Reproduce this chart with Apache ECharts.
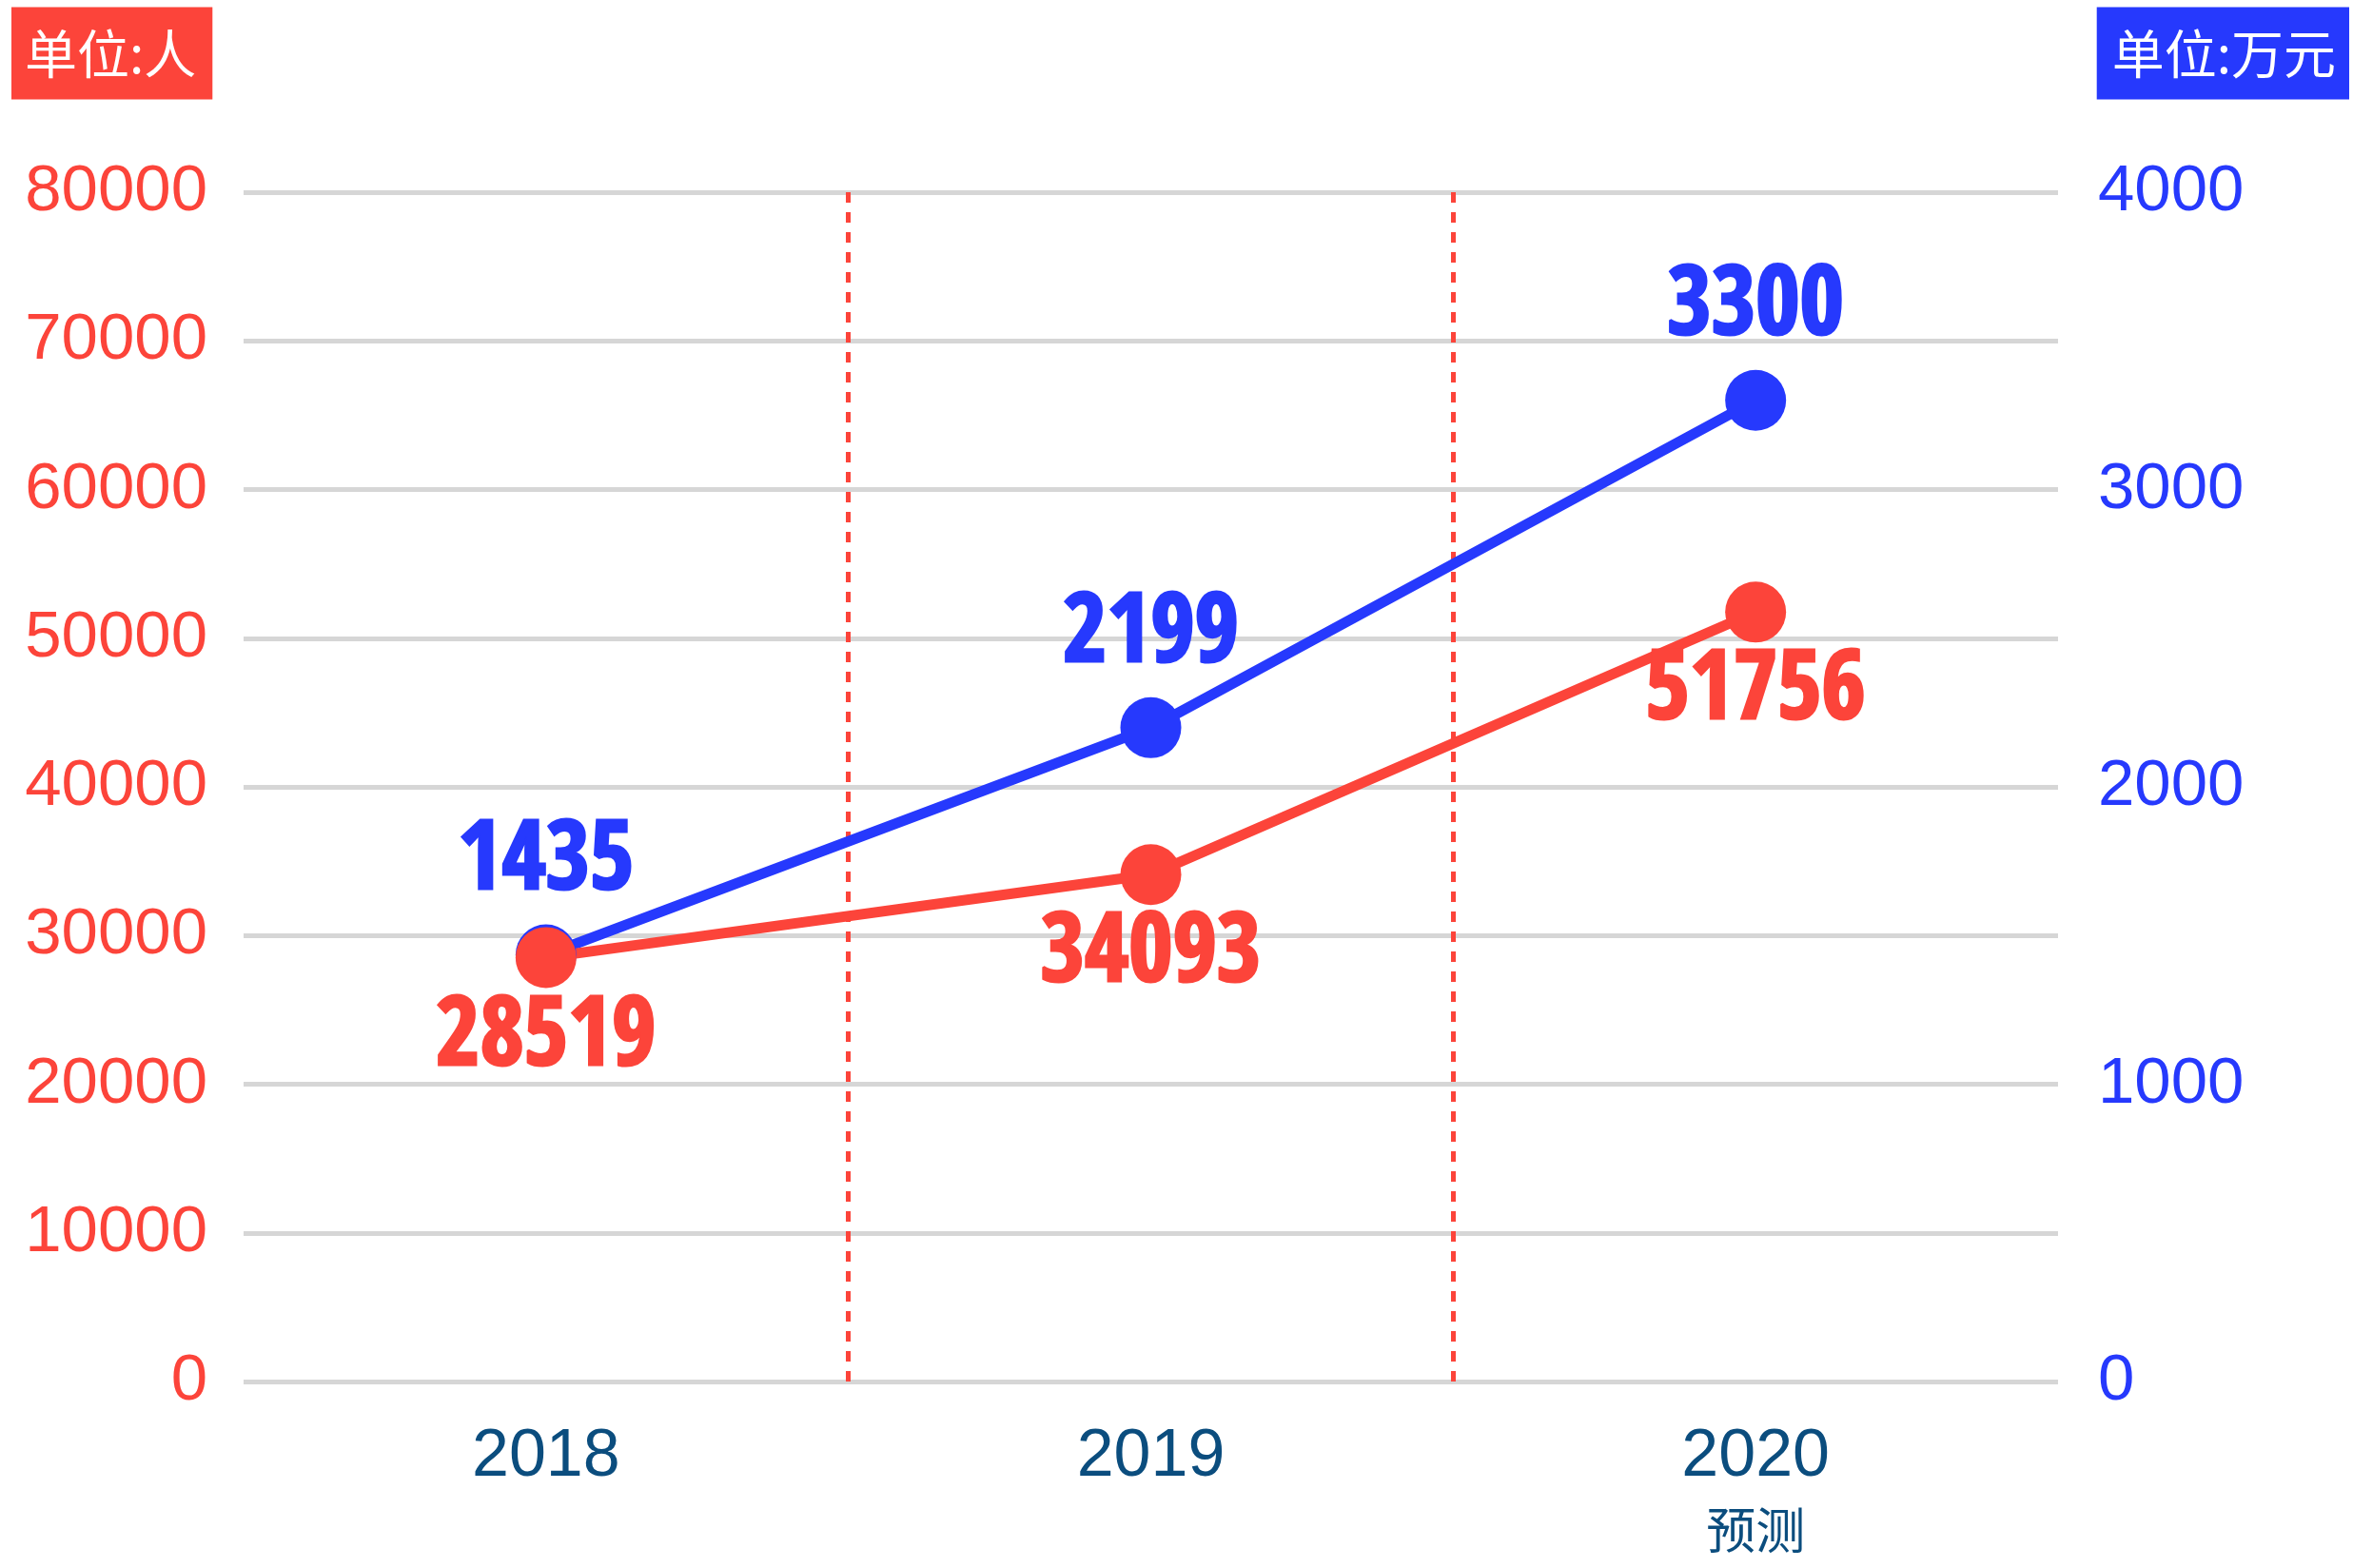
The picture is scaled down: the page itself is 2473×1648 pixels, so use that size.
<!DOCTYPE html>
<html>
<head>
<meta charset="utf-8">
<script src="https://cdn.jsdelivr.net/npm/echarts@6/dist/echarts.min.js"></script>
<style>
  html, body { margin: 0; padding: 0; background: #fff; }
  #container { width: 2473px; height: 1648px; }
</style>
</head>
<body>
<div id="container"></div>
<script>
var dom = document.getElementById('container');
var myChart = echarts.init(dom, null, { renderer: 'canvas' });

// 数据
var years = ['2018', '2019', '2020'];
var yearNotes = ['', '', '预测'];
var people = [28519, 34093, 51756];   // 单位:人
var income = [1435, 2199, 3300];      // 单位:万元
var leftTicks = { min: 0, max: 80000, interval: 10000 };
var rightTicks = { min: 0, max: 4000, interval: 1000 };

var RED = '#fc443a';
var BLUE = '#2639fd';
var NAVY = '#0b4d7e';
var numFont = '"Open Sans Condensed", "Roboto Condensed", "Open Sans", Roboto, sans-serif';

var option = {
  animation: false,
  backgroundColor: '#fff',
  title: [
    {
      text: '单位:人',
      left: 12,
      top: 8,
      padding: [21, 17, 21, 14],
      backgroundColor: RED,
      textStyle: { color: '#fff', fontSize: 55, lineHeight: 54, fontWeight: 'normal', fontFamily: '"Noto Sans CJK SC", sans-serif' }
    },
    {
      text: '单位:万元',
      right: 4,
      top: 8,
      padding: [21, 14, 21, 16],
      backgroundColor: BLUE,
      textStyle: { color: '#fff', fontSize: 55, lineHeight: 54, fontWeight: 'normal', fontFamily: '"Noto Sans CJK SC", sans-serif' }
    }
  ],
  grid: { left: 256, right: 310, top: 202, bottom: 196 },
  xAxis: {
    type: 'category',
    data: years,
    boundaryGap: true,
    axisLine: { show: false },
    axisTick: { show: false },
    axisLabel: {
      margin: 40,
      formatter: function (v, i) {
        return yearNotes[i] ? v + '\n{s|' + yearNotes[i] + '}' : v;
      },
      color: NAVY,
      fontSize: 70,
      lineHeight: 80,
      fontFamily: '"Liberation Sans", sans-serif',
      rich: {
        s: { fontSize: 52, lineHeight: 72, color: NAVY, fontFamily: '"Noto Sans CJK SC", sans-serif' }
      }
    },
    splitLine: {
      show: true,
      showMinLine: false,
      showMaxLine: false,
      lineStyle: { color: RED, width: 5, type: [11, 10] }
    }
  },
  yAxis: [
    {
      type: 'value',
      min: leftTicks.min,
      max: leftTicks.max,
      interval: leftTicks.interval,
      axisLine: { show: false },
      axisTick: { show: false },
      axisLabel: {
        margin: 38, color: RED, fontSize: 69, fontFamily: '"Liberation Sans", sans-serif',
        padding: [16, 0, 0, 0],
        formatter: function (v) { return String(v); }
      },
      splitLine: { lineStyle: { color: '#d6d6d6', width: 5 } }
    },
    {
      type: 'value',
      min: rightTicks.min,
      max: rightTicks.max,
      interval: rightTicks.interval,
      position: 'right',
      axisLine: { show: false },
      axisTick: { show: false },
      axisLabel: {
        margin: 42, color: BLUE, fontSize: 69, fontFamily: '"Liberation Sans", sans-serif',
        padding: [16, 0, 0, 0],
        formatter: function (v) { return String(v); }
      },
      splitLine: { show: false }
    }
  ],
  series: [
    {
      name: '万元',
      type: 'line',
      yAxisIndex: 1,
      data: income,
      symbol: 'circle',
      symbolSize: 64,
      itemStyle: { color: BLUE },
      lineStyle: { color: BLUE, width: 11 },
      label: {
        show: true,
        position: 'top',
        distance: 14,
        color: BLUE,
        fontSize: 100,
        fontStyle: 'condensed',
        fontWeight: 800,
        fontFamily: numFont,
        textBorderColor: BLUE,
        textBorderWidth: 3
      }
    },
    {
      name: '人',
      type: 'line',
      yAxisIndex: 0,
      data: people,
      symbol: 'circle',
      symbolSize: 64,
      itemStyle: { color: RED },
      lineStyle: { color: RED, width: 11 },
      label: {
        show: true,
        position: 'bottom',
        distance: 4,
        color: RED,
        fontSize: 100,
        fontStyle: 'condensed',
        fontWeight: 800,
        fontFamily: numFont,
        textBorderColor: RED,
        textBorderWidth: 3
      }
    }
  ]
};

myChart.setOption(option);
window.addEventListener('resize', myChart.resize);
</script>
</body>
</html>
